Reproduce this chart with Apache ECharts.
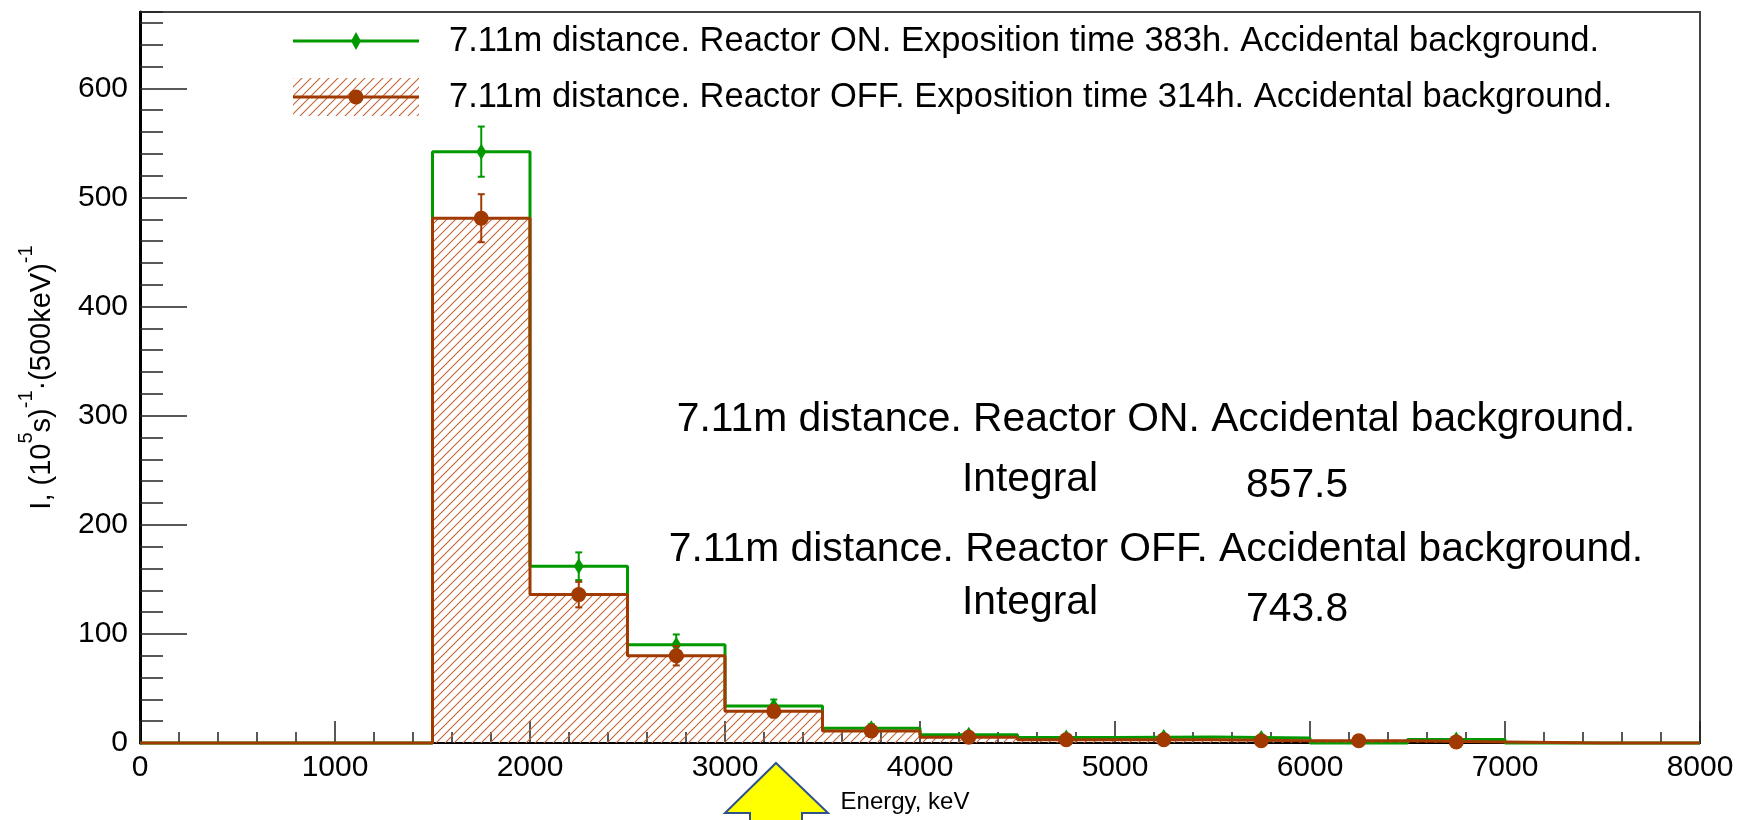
<!DOCTYPE html>
<html>
<head>
<meta charset="utf-8">
<script src="https://cdn.jsdelivr.net/npm/echarts@6/dist/echarts.min.js"></script>
<style>
html,body{margin:0;padding:0;background:#fff;}
#chart{width:1740px;height:820px;}
</style>
</head>
<body>
<div id="chart"></div>
<script>
// ---------------- data ----------------
const binStart = [0, 500, 1000, 1500, 2000, 2500, 3000, 3500, 4000, 4500, 5000, 5500, 6000, 6500, 7000, 7500];
const binWidth = 500;
const onValues  = [0, 0, 0, 542, 162, 90, 34, 13.5, 7.5, 5, 5.5, 4.5, 0, 3.3, 0, 0];
const onErrors  = [0, 0, 0, 23, 12.7, 9.5, 5.8, 3.7, 2.7, 2.2, 2.3, 2.1, 0, 1.8, 0, 0];
const offValues = [0, 0, 0, 481, 136, 80, 29, 11, 5.3, 3, 3, 2, 2, 1, 0, 0];
const offErrors = [0, 0, 0, 22, 11.7, 8.9, 5.4, 3.3, 2.3, 1.7, 1.7, 1.4, 1.4, 1, 0, 0];
const xTickValues = [0, 1000, 2000, 3000, 4000, 5000, 6000, 7000, 8000];
const yTickValues = [0, 100, 200, 300, 400, 500, 600];
const seriesNames = [
  '7.11m distance. Reactor ON. Exposition time 383h. Accidental background.',
  '7.11m distance. Reactor OFF. Exposition time 314h. Accidental background.'
];
const infoTitles = [
  '7.11m distance. Reactor ON. Accidental background.',
  '7.11m distance. Reactor OFF. Accidental background.'
];
const integralLabel = 'Integral';
const integralValues = ['857.5', '743.8'];
const xTitle = 'Energy, keV';

// ---------------- styles ----------------
const FONT = "'Liberation Sans', Arial, Helvetica, sans-serif";
const GREEN = '#009900';
const BROWN = '#a03a00';
const HATCH = '#c2643a';

function makeHatch(size) {
  const c = document.createElement('canvas');
  c.width = size; c.height = size;
  const g = c.getContext('2d');
  g.strokeStyle = HATCH;
  g.lineWidth = 1.1;
  g.beginPath();
  for (let k = 0; k <= 2 * size; k += size) {
    g.moveTo(k + 1, -1);
    g.lineTo(k - size - 1, size + 1);
  }
  g.stroke();
  return c;
}
const hatchTile = makeHatch(9);

function legendIcon(kind, w, h) {
  const c = document.createElement('canvas');
  c.width = w; c.height = h;
  const g = c.getContext('2d');
  if (kind === 'off') {
    g.fillStyle = g.createPattern(hatchTile, 'repeat');
    g.fillRect(0, 0, w, h);
  }
  g.strokeStyle = kind === 'on' ? GREEN : BROWN;
  g.lineWidth = 3;
  g.beginPath(); g.moveTo(0, h / 2); g.lineTo(w, h / 2); g.stroke();
  g.fillStyle = kind === 'on' ? GREEN : BROWN;
  g.beginPath();
  if (kind === 'on') {
    g.moveTo(w / 2, h / 2 - 9); g.lineTo(w / 2 + 5, h / 2);
    g.lineTo(w / 2, h / 2 + 9); g.lineTo(w / 2 - 5, h / 2); g.closePath();
  } else {
    g.arc(w / 2, h / 2, 7.5, 0, Math.PI * 2);
  }
  g.fill();
  return 'image://' + c.toDataURL();
}

function histPoints(values) {
  const pts = binStart.map((x, i) => [x, values[i]]);
  pts.push([binStart[binStart.length - 1] + binWidth, values[values.length - 1]]);
  return pts;
}
function markerPoints(values, errors) {
  const out = [];
  values.forEach((v, i) => { if (v > 0) out.push([binStart[i] + binWidth / 2, v, errors[i]]); });
  return out;
}
function errorSeries(name, values, errors, color, capHalf) {
  return {
    type: 'custom', name: name, clip: false,
    data: markerPoints(values, errors),
    encode: { x: 0, y: 1 },
    renderItem: function (params, api) {
      const x = api.value(0), v = api.value(1), e = api.value(2);
      const top = api.coord([x, v + e]);
      const bot = api.coord([x, v - e]);
      const st = { stroke: color, lineWidth: 2 };
      return {
        type: 'group', children: [
          { type: 'line', shape: { x1: top[0], y1: top[1], x2: bot[0], y2: bot[1] }, style: st },
          { type: 'line', shape: { x1: top[0] - capHalf, y1: top[1], x2: top[0] + capHalf, y2: top[1] }, style: st },
          { type: 'line', shape: { x1: bot[0] - capHalf, y1: bot[1], x2: bot[0] + capHalf, y2: bot[1] }, style: st }
        ]
      };
    }
  };
}

const chart = echarts.init(document.getElementById('chart'), null, { renderer: 'canvas' });

const option = {
  animation: false,
  backgroundColor: '#ffffff',
  grid: {
    left: 140, right: 40, top: 12, bottom: 77,
    show: true, borderColor: '#444', borderWidth: 2, backgroundColor: 'transparent',
    containLabel: false, outerBoundsMode: 'none'
  },
  legend: {
    left: 288, top: 17, orient: 'vertical',
    itemWidth: 126, itemHeight: 38, itemGap: 18,
    selectedMode: false,
    textStyle: { fontSize: 34.5, fontFamily: FONT, color: '#000', padding: [0, 0, 0, 25] },
    data: [
      { name: seriesNames[0], icon: legendIcon('on', 126, 38) },
      { name: seriesNames[1], icon: legendIcon('off', 126, 38) }
    ]
  },
  xAxis: {
    type: 'value', min: 0, max: 8000, interval: 1000,
    axisLine: { show: true, onZero: false, lineStyle: { color: '#000', width: 2 } },
    axisTick: { show: true, inside: true, length: 22, lineStyle: { color: '#222', width: 1.5 } },
    minorTick: { show: true, splitNumber: 5, length: 11, lineStyle: { color: '#222', width: 1.5 } },
    axisLabel: { fontSize: 30, fontFamily: FONT, color: '#000', margin: 10,
      formatter: v => xTickValues.includes(v) ? String(v) : '' },
    splitLine: { show: false }, minorSplitLine: { show: false },
    name: xTitle, nameLocation: 'middle', nameGap: 47,
    nameTextStyle: { fontSize: 24, fontFamily: FONT, color: '#000', padding: [0, 30, 0, 0] }
  },
  yAxis: [
    {
      type: 'value', min: 0, max: 670, interval: 100, position: 'left',
      axisLine: { show: true, onZero: false, lineStyle: { color: '#000', width: 3 } },
      axisTick: { show: true, inside: true, length: 47, lineStyle: { color: '#222', width: 1.5 } },
      axisLabel: { fontSize: 30, fontFamily: FONT, color: '#000', margin: 12, showMaxLabel: false,
        formatter: v => yTickValues.includes(v) ? String(v) : '' },
      splitLine: { show: false },
      name: '{n|I, (10}{s|5}{n|s)}{s|-1}{n|·(500keV)}{s|-1}',
      nameLocation: 'middle', nameGap: 84, nameRotate: 90,
      nameTextStyle: {
        color: '#000', fontFamily: FONT,
        rich: {
          n: { fontSize: 29, fontFamily: FONT, color: '#000', lineHeight: 40, verticalAlign: 'bottom' },
          s: { fontSize: 20, fontFamily: FONT, color: '#000', lineHeight: 18, verticalAlign: 'top' }
        }
      }
    },
    {
      type: 'value', min: 0, max: 670, interval: 20, position: 'left', offset: 0,
      axisLine: { show: false },
      axisTick: { show: true, inside: true, length: 23, lineStyle: { color: '#222', width: 1.5 } },
      axisLabel: { show: false },
      splitLine: { show: false }
    }
  ],
  graphic: [
    { type: 'text', x: 1156, y: 420, style: { text: infoTitles[0], fontSize: 40.8, fontFamily: FONT, fill: '#000', align: 'center', verticalAlign: 'middle' } },
    { type: 'text', x: 962, y: 480, style: { text: integralLabel, fontSize: 40.8, fontFamily: FONT, fill: '#000', align: 'left', verticalAlign: 'middle' } },
    { type: 'text', x: 1246, y: 486, style: { text: integralValues[0], fontSize: 40.8, fontFamily: FONT, fill: '#000', align: 'left', verticalAlign: 'middle' } },
    { type: 'text', x: 1156, y: 550, style: { text: infoTitles[1], fontSize: 40.8, fontFamily: FONT, fill: '#000', align: 'center', verticalAlign: 'middle' } },
    { type: 'text', x: 962, y: 603, style: { text: integralLabel, fontSize: 40.8, fontFamily: FONT, fill: '#000', align: 'left', verticalAlign: 'middle' } },
    { type: 'text', x: 1246, y: 610, style: { text: integralValues[1], fontSize: 40.8, fontFamily: FONT, fill: '#000', align: 'left', verticalAlign: 'middle' } },
    { type: 'polygon', z: 100,
      shape: { points: [[776, 763], [828, 813], [802, 813], [802, 830], [750, 830], [750, 813], [725, 813]] },
      style: { fill: '#ffff00', stroke: '#2f528f', lineWidth: 2 } }
  ],
  series: [
    {
      type: 'line', name: seriesNames[0], step: 'end', clip: false,
      data: histPoints(onValues), showSymbol: false, symbol: 'none',
      lineStyle: { color: GREEN, width: 3 }, itemStyle: { color: GREEN },
      z: 2
    },
    {
      type: 'line', name: seriesNames[1], step: 'end', clip: false,
      data: histPoints(offValues), showSymbol: false, symbol: 'none',
      lineStyle: { color: BROWN, width: 3 }, itemStyle: { color: BROWN },
      areaStyle: { color: { image: hatchTile, repeat: 'repeat' }, opacity: 1 },
      z: 3
    },
    Object.assign(errorSeries(seriesNames[0], onValues, onErrors, GREEN, 3.5), { z: 4 }),
    {
      type: 'scatter', name: seriesNames[0], z: 5,
      data: markerPoints(onValues, onErrors).map(p => [p[0], p[1]]),
      symbol: 'path://M5,0 L10,10 L5,20 L0,10 Z', symbolSize: [10, 16], symbolKeepAspect: false,
      itemStyle: { color: GREEN, opacity: 1 }
    },
    Object.assign(errorSeries(seriesNames[1], offValues, offErrors, BROWN, 3.5), { z: 6 }),
    {
      type: 'scatter', name: seriesNames[1], z: 7,
      data: markerPoints(offValues, offErrors).map(p => [p[0], p[1]]),
      symbol: 'circle', symbolSize: 15,
      itemStyle: { color: BROWN, opacity: 1 }
    }
  ]
};
chart.setOption(option);
</script>
</body>
</html>
